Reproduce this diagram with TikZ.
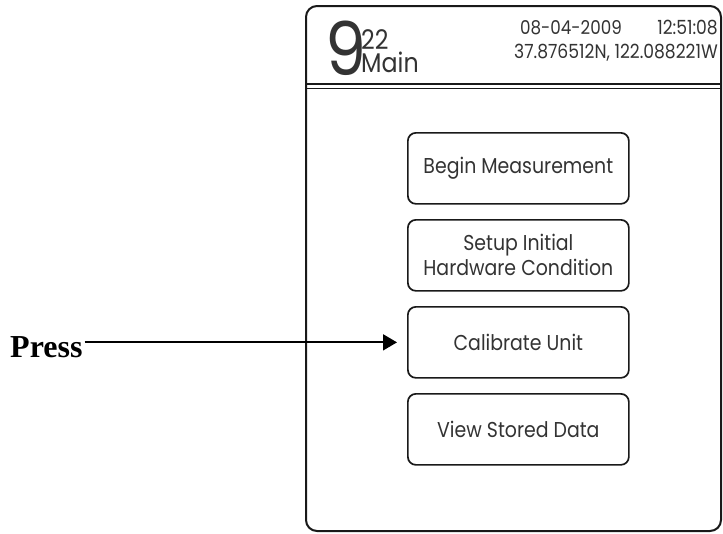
\documentclass[tikz,border=0pt]{standalone}
\usepackage{fontspec}
\usepackage{tikz}
\usetikzlibrary{calc,arrows.meta}
\setmainfont{Liberation Serif}
\newfontfamily\ecran[FakeStretch=0.88]{Poppins}
\definecolor{gristexte}{HTML}{333333}
\tikzstyle{bouton} = [rectangle, draw=black!90, line width=1.7pt, rounded corners=8pt, minimum height=71pt, minimum width=221pt, align=center, text=gristexte, font=\ecran\fontsize{21.5}{25}\selectfont]
\tikzstyle{entete} = [inner sep=0pt, text=gristexte]

\begin{document}
\begin{tikzpicture}[x=1pt, y=-1pt]

        \useasboundingbox (0,0) rectangle (723,533);

        %% screen
        \draw[line width=2pt, rounded corners=11pt, draw=black!90] (306,6) rectangle (721,531);
        \draw[line width=2.6pt, draw=black!90] (306,84) -- (721,84);
        \draw[line width=1.3pt, draw=black!90] (306,88.5) -- (721,88.5);

        %% header
        \node (H9) [entete, anchor=base west, font=\ecran\fontsize{74}{74}\selectfont] at (325,75) {\makebox[32pt][l]{9}};
        \node (H22) [entete, anchor=base west, font=\ecran\fontsize{27}{27}\selectfont] at (361,49) {22};
        \node (Hmain) [entete, anchor=base west, font=\ecran\fontsize{27}{27}\selectfont] at (361,72) {Main};
        \node (Hheure) [entete, anchor=base east, font=\ecran\fontsize{19.5}{20}\selectfont] at (718,34) {12:51:08};
        \node (Hdate) [entete, anchor=base east, font=\ecran\fontsize{19}{20}\selectfont] at (622,34) {08-04-2009};
        \node (Hpos) [entete, anchor=base east, font=\ecran\fontsize{19.5}{20}\selectfont] at (718,58) {37.876512N, 122.088221W};

        %% buttons
        \node (B1) [bouton, anchor=north west] at (407,132) {Begin Measurement};
        \node (B2) [bouton, anchor=north west] at (407,219) {Setup Initial\\Hardware Condition};
        \node (B3) [bouton, anchor=north west] at (407,306) {Calibrate Unit};
        \node (B4) [bouton, anchor=north west] at (407,393) {View Stored Data};

        %% note
        \node (P) [anchor=base west, inner xsep=2pt, inner ysep=0pt, font=\bfseries\fontsize{32}{32}\selectfont] at (8,357) {Press};
        \draw[line width=1.8pt, -{Triangle[length=14pt,width=16pt]}, shorten >=10pt] (P.east |- B3.west) -- (B3.west);

\end{tikzpicture}
\end{document}
